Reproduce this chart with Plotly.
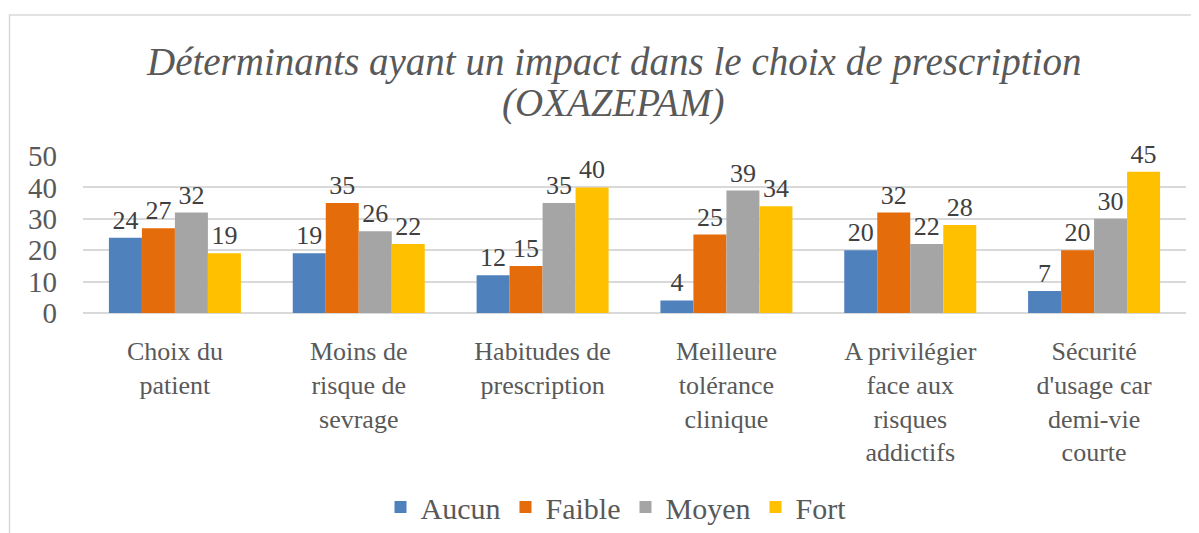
import plotly.graph_objects as go

categories = [
    "Choix du<br>patient",
    "Moins de<br>risque de<br>sevrage",
    "Habitudes de<br>prescription",
    "Meilleure<br>tolérance<br>clinique",
    "A privilégier<br>face aux<br>risques<br>addictifs",
    "Sécurité<br>d'usage car<br>demi-vie<br>courte",
]
series_names = ["Aucun", "Faible", "Moyen", "Fort"]
aucun = [24, 19, 12, 4, 20, 7]
faible = [27, 35, 15, 25, 32, 20]
moyen = [32, 26, 35, 39, 22, 30]
fort = [19, 22, 40, 34, 28, 45]
colors = ["#4F81BD", "#E46C0A", "#A5A5A5", "#FFC000"]
y_ticks = [0, 10, 20, 30, 40, 50]
title_lines = ["Déterminants ayant un impact dans le choix de prescription", "(OXAZEPAM)"]

FONT = "'Liberation Serif', 'DejaVu Serif', serif"

fig = go.Figure()
for name, vals, col in zip(series_names, [aucun, faible, moyen, fort], colors):
    fig.add_trace(go.Bar(
        x=categories, y=vals, name=name, marker_color=col,
        text=[str(v) for v in vals], textposition="outside",
        textfont=dict(family=FONT, size=26, color="#404040"),
        cliponaxis=False,
    ))

# page body has an 8px margin; figure coordinates = screen - 8
OFF = 8
W, H = 1199 - OFF, 533 - OFF
L = 83 - OFF
R = W - (1186 - OFF)
T = 156 - OFF
B = H - (313 - OFF)
pw = W - L - R
ph = H - T - B


def px(xs):
    return (xs - OFF - L) / pw


def py(ys):
    return (ph - (ys - OFF - T)) / ph


title_font = dict(family=FONT, size=39, color="#595959", style="italic")

fig.update_layout(
    template="none",
    width=W, height=H,
    margin=dict(l=L, r=R, t=T, b=B, autoexpand=False),
    paper_bgcolor="white", plot_bgcolor="white",
    barmode="group", bargap=0.282, bargroupgap=0,
    annotations=[
        dict(text=title_lines[0], xref="paper", yref="paper",
             x=px(613), y=py(62), xanchor="center", yanchor="middle",
             showarrow=False, font=title_font),
        dict(text=title_lines[1], xref="paper", yref="paper",
             x=px(613), y=py(103), xanchor="center", yanchor="middle",
             showarrow=False, font=title_font),
    ],
    font=dict(family=FONT, color="#595959"),
    legend=dict(
        orientation="h", x=px(616), xanchor="center",
        y=py(507), yanchor="middle",
        font=dict(family=FONT, size=30, color="#595959"),
        itemwidth=30, traceorder="normal",
    ),
    showlegend=True,
    xaxis=dict(
        automargin=False,
        showgrid=False, showline=False, ticks="",
        tickfont=dict(family=FONT, size=26, color="#595959"),
        tickangle=0, ticklabelstandoff=20,
    ),
    yaxis=dict(
        automargin=False,
        range=[0, 50], tickvals=y_ticks,
        showgrid=True, gridcolor="#D9D9D9", gridwidth=1.5,
        zeroline=True, zerolinecolor="#D9D9D9", zerolinewidth=1.5,
        showline=False, ticks="",
        tickfont=dict(family=FONT, size=29, color="#595959"),
        ticklabelstandoff=25,
    ),
    shapes=[
        dict(type="rect", xref="paper", yref="paper",
             x0=px(9.5), x1=px(1205),
             y0=py(545), y1=py(15),
             line=dict(color="#D9D9D9", width=1.5), fillcolor="rgba(0,0,0,0)",
             layer="below"),
    ],
)

fig.write_html("out.html")
